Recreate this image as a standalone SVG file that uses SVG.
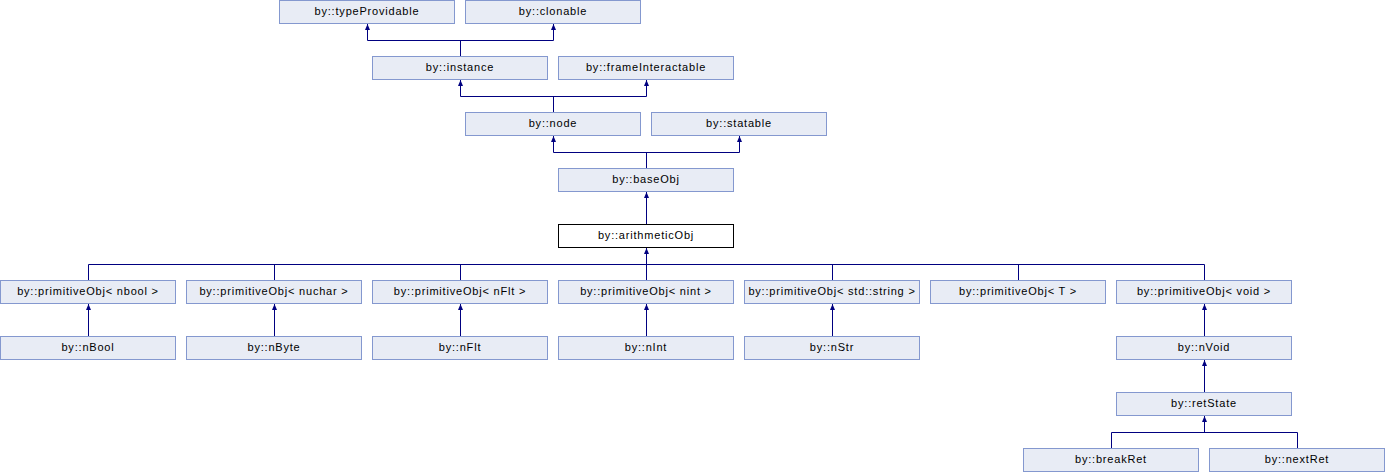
<svg xmlns="http://www.w3.org/2000/svg" width="1385" height="472" viewBox="0 0 1385 472">
<style>
.n rect{fill:#E8ECF5;stroke:#8498CF;stroke-width:1}
.n.cur rect{fill:#FFFFFF;stroke:#000000}
.n text{font-family:"Liberation Sans",Arial,sans-serif;font-size:11px;font-weight:normal;letter-spacing:0.8px;fill:#000;text-anchor:middle}
.e path{fill:none;stroke:#000080;stroke-width:1}
</style>
<defs>
<polygon id="ah" points="0,0 -2.5,6 2.5,6" fill="#000080"/>
</defs>
<rect width="1385" height="472" fill="#FFFFFF"/>
<g class="e" id="connectors">
<path d="M460.5,56V40.5M367.5,40.5H553.5M367.5,40.5V24M553.5,40.5V24"/>
<use href="#ah" x="367.5" y="24"/><use href="#ah" x="553.5" y="24"/>
<path d="M553.5,112V96.5M460.5,96.5H646.5M460.5,96.5V80M646.5,96.5V80"/>
<use href="#ah" x="460.5" y="80"/><use href="#ah" x="646.5" y="80"/>
<path d="M646.5,168V152.5M553.5,152.5H739.5M553.5,152.5V136M739.5,152.5V136"/>
<use href="#ah" x="553.5" y="136"/><use href="#ah" x="739.5" y="136"/>
<path d="M646.5,224V192"/>
<use href="#ah" x="646.5" y="192"/>
<path d="M88.5,264.5H1204.5M88.5,280V264.5M274.5,280V264.5M460.5,280V264.5M646.5,280V248M832.5,280V264.5M1018.5,280V264.5M1204.5,280V264.5"/>
<use href="#ah" x="646.5" y="248"/>
<path d="M88.5,336V304M274.5,336V304M460.5,336V304M646.5,336V304M832.5,336V304M1204.5,336V304"/>
<use href="#ah" x="88.5" y="304"/><use href="#ah" x="274.5" y="304"/><use href="#ah" x="460.5" y="304"/><use href="#ah" x="646.5" y="304"/><use href="#ah" x="832.5" y="304"/><use href="#ah" x="1204.5" y="304"/>
<path d="M1204.5,392V360"/>
<use href="#ah" x="1204.5" y="360"/>
<path d="M1111.5,448V432.5M1297.5,448V432.5M1111.5,432.5H1297.5M1204.5,432.5V416"/>
<use href="#ah" x="1204.5" y="416"/>
</g>
<g class="n" id="typeProvidable"><rect x="279.5" y="0.5" width="175" height="23"/><text x="367" y="15">by::typeProvidable</text></g>
<g class="n" id="clonable"><rect x="465.5" y="0.5" width="175" height="23"/><text x="553" y="15">by::clonable</text></g>
<g class="n" id="instance"><rect x="372.5" y="56.5" width="175" height="23"/><text x="460" y="71">by::instance</text></g>
<g class="n" id="frameInteractable"><rect x="558.5" y="56.5" width="175" height="23"/><text x="646" y="71">by::frameInteractable</text></g>
<g class="n" id="node"><rect x="465.5" y="112.5" width="175" height="23"/><text x="553" y="127">by::node</text></g>
<g class="n" id="statable"><rect x="651.5" y="112.5" width="175" height="23"/><text x="739" y="127">by::statable</text></g>
<g class="n" id="baseObj"><rect x="558.5" y="168.5" width="175" height="23"/><text x="646" y="183">by::baseObj</text></g>
<g class="n cur" id="arithmeticObj"><rect x="558.5" y="224.5" width="175" height="23"/><text x="646" y="239">by::arithmeticObj</text></g>
<g class="n" id="primBool"><rect x="0.5" y="280.5" width="175" height="23"/><text x="88" y="295">by::primitiveObj&lt; nbool &gt;</text></g>
<g class="n" id="primUchar"><rect x="186.5" y="280.5" width="175" height="23"/><text x="274" y="295">by::primitiveObj&lt; nuchar &gt;</text></g>
<g class="n" id="primFlt"><rect x="372.5" y="280.5" width="175" height="23"/><text x="460" y="295">by::primitiveObj&lt; nFlt &gt;</text></g>
<g class="n" id="primInt"><rect x="558.5" y="280.5" width="175" height="23"/><text x="646" y="295">by::primitiveObj&lt; nint &gt;</text></g>
<g class="n" id="primStr"><rect x="744.5" y="280.5" width="175" height="23"/><text x="832" y="295">by::primitiveObj&lt; std::string &gt;</text></g>
<g class="n" id="primT"><rect x="930.5" y="280.5" width="175" height="23"/><text x="1018" y="295">by::primitiveObj&lt; T &gt;</text></g>
<g class="n" id="primVoid"><rect x="1116.5" y="280.5" width="175" height="23"/><text x="1204" y="295">by::primitiveObj&lt; void &gt;</text></g>
<g class="n" id="nBool"><rect x="0.5" y="336.5" width="175" height="23"/><text x="88" y="351">by::nBool</text></g>
<g class="n" id="nByte"><rect x="186.5" y="336.5" width="175" height="23"/><text x="274" y="351">by::nByte</text></g>
<g class="n" id="nFlt"><rect x="372.5" y="336.5" width="175" height="23"/><text x="460" y="351">by::nFlt</text></g>
<g class="n" id="nInt"><rect x="558.5" y="336.5" width="175" height="23"/><text x="646" y="351">by::nInt</text></g>
<g class="n" id="nStr"><rect x="744.5" y="336.5" width="175" height="23"/><text x="832" y="351">by::nStr</text></g>
<g class="n" id="nVoid"><rect x="1116.5" y="336.5" width="175" height="23"/><text x="1204" y="351">by::nVoid</text></g>
<g class="n" id="retState"><rect x="1116.5" y="392.5" width="175" height="23"/><text x="1204" y="407">by::retState</text></g>
<g class="n" id="breakRet"><rect x="1023.5" y="448.5" width="175" height="23"/><text x="1111" y="463">by::breakRet</text></g>
<g class="n" id="nextRet"><rect x="1209.5" y="448.5" width="175" height="23"/><text x="1297" y="463">by::nextRet</text></g>
</svg>
